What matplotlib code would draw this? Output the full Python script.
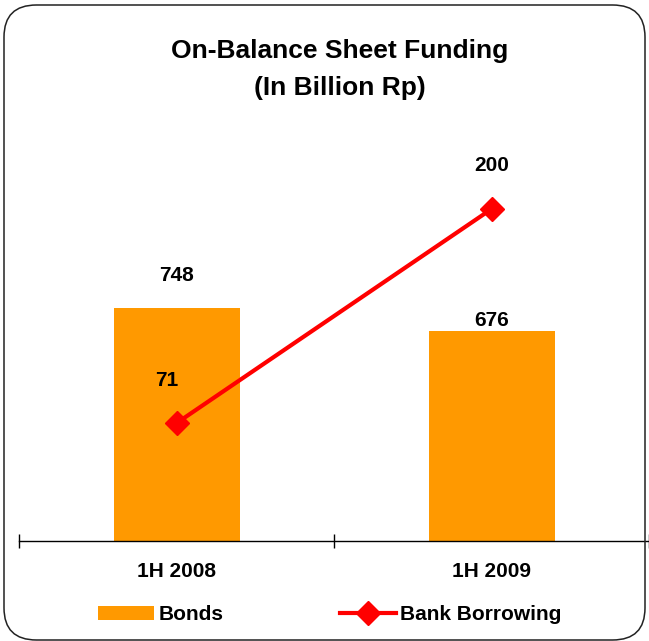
import matplotlib.pyplot as plt
from matplotlib.patches import FancyBboxPatch, Patch
from matplotlib.lines import Line2D

plt.rcParams['font.family'] = ['Liberation Sans', 'DejaVu Sans']
plt.rcParams['font.weight'] = 'bold'

periods = ['1H 2008', '1H 2009']
bonds = [748, 676]
bank_borrowing = [71, 200]

bar_color = '#FF9900'
line_color = '#FF0000'

fig = plt.figure(figsize=(6.49, 6.41), dpi=100)

# rounded frame around the whole chart
frame = FancyBboxPatch((4 / 649, 1 / 641), 641 / 649, 635 / 641,
                       boxstyle='round,pad=0,rounding_size=0.05',
                       transform=fig.transFigure, fill=False,
                       edgecolor='#222222', linewidth=1.1, zorder=0)
fig.patches.append(frame)

ax = fig.add_axes([19 / 649, 100 / 641, 630 / 649, 411 / 641])
ax.set_facecolor('none')
x = range(len(periods))
ax.bar(x, bonds, width=0.40, color=bar_color, zorder=2)
ax.set_xlim(-0.5, 1.5)
ax.set_ylim(0, 1321)
ax.set_yticks([])
for s in ['left', 'right', 'top']:
    ax.spines[s].set_visible(False)
ax.spines['bottom'].set_linewidth(1.0)
ax.set_xticks([-0.5, 0.5, 1.5])
ax.set_xticklabels([])
ax.tick_params(axis='x', direction='inout', length=10, width=1.0)
ax.set_xticks(list(x), minor=True)
ax.set_xticklabels(periods, minor=True, fontsize=15, fontweight='bold')
ax.tick_params(axis='x', which='minor', length=0, pad=15)

bond_offsets = [(0, 33), (0, 10)]
for i, v in enumerate(bonds):
    ax.annotate(str(v), (i, v), xytext=bond_offsets[i], textcoords='offset pixels',
                ha='center', va='center', fontsize=15, fontweight='bold')

ax2 = ax.twinx()
ax2.set_ylim(0, 247.6)
ax2.set_yticks([])
for s in ax2.spines.values():
    s.set_visible(False)
ax2.plot(list(x), bank_borrowing, color=line_color, linewidth=3,
         marker='D', markersize=12, zorder=3)
label_offsets = [(-10, 43), (0, 44)]
for i, v in enumerate(bank_borrowing):
    ax2.annotate(str(v), (i, v), xytext=label_offsets[i], textcoords='offset pixels',
                 ha='center', va='center', fontsize=15, fontweight='bold')

fig.text(340 / 649, 1 - 51 / 641, 'On-Balance Sheet Funding', ha='center', va='center',
         fontsize=19, fontweight='bold')
fig.text(340 / 649, 1 - 88 / 641, '(In Billion Rp)', ha='center', va='center',
         fontsize=19, fontweight='bold')

handles = [Patch(facecolor=bar_color, edgecolor='none'),
           Line2D([], [], color=line_color, linewidth=3, marker='D', markersize=12)]
fig.legend(handles, ['Bonds', 'Bank Borrowing'], ncol=2, frameon=False,
           loc='center left', bbox_to_anchor=(98 / 649, 1 - 615 / 641),
           prop={'weight': 'bold', 'size': 15},
           handlelength=2.7, handleheight=0.68, handletextpad=0.2,
           columnspacing=5.6, borderpad=0, borderaxespad=0)

fig.savefig('out.png', dpi=100)
